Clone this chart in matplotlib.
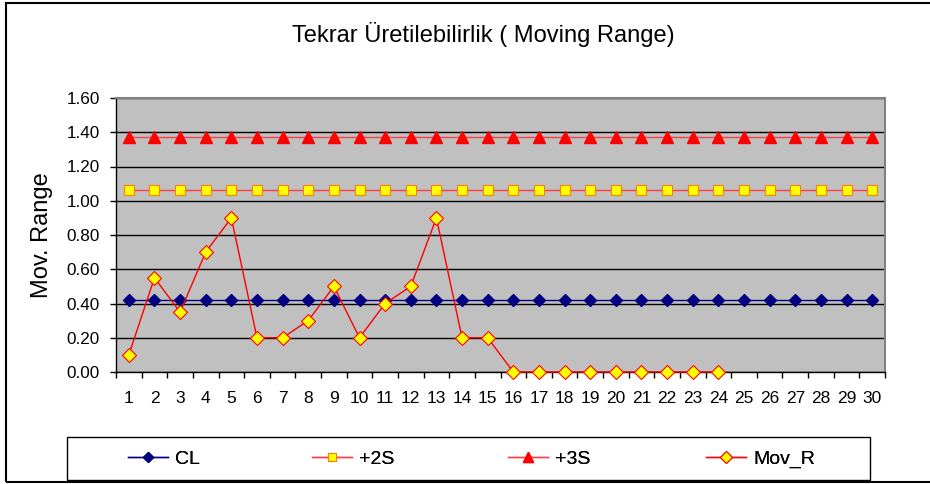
import matplotlib
matplotlib.use("Agg")
import matplotlib.pyplot as plt
from matplotlib.patches import Rectangle

# Data
samples = list(range(1, 31))
cl_values = [0.42] * 30
plus2s_values = [1.06] * 30
plus3s_values = [1.37] * 30
mov_r_samples = list(range(1, 25))
mov_r_values = [0.10, 0.55, 0.35, 0.70, 0.90, 0.20, 0.20, 0.30, 0.50, 0.20,
                0.40, 0.50, 0.90, 0.20, 0.20, 0.00, 0.00, 0.00, 0.00, 0.00,
                0.00, 0.00, 0.00, 0.00]
y_ticks = [0.0, 0.2, 0.4, 0.6, 0.8, 1.0, 1.2, 1.4, 1.6]
title = "Tekrar Üretilebilirlik ( Moving Range)"
y_label = "Mov. Range"
series_names = ["CL", "+2S", "+3S", "Mov_R"]

plt.rcParams['font.family'] = ['Liberation Sans', 'DejaVu Sans']

W, H = 930, 484
fig = plt.figure(figsize=(W / 100, H / 100), dpi=100)

def fx(px):
    return px / W

def fy(py):
    return 1 - py / H

# outer border
fig.add_artist(Rectangle((fx(6), fy(482)), fx(935) - fx(6), fy(2.5) - fy(482),
                         transform=fig.transFigure, fill=False,
                         edgecolor='black', linewidth=1.5))

ax = fig.add_axes([fx(116), fy(372), fx(885) - fx(116), fy(98) - fy(372)])
ax.set_facecolor('#C0C0C0')

lines = []
lines += ax.plot(samples, cl_values, color='#000080', linewidth=1.0, marker='D',
                 markersize=6.5, markerfacecolor='#000080', markeredgecolor='#000080',
                 label=series_names[0], zorder=3)
lines += ax.plot(samples, plus2s_values, color='#FF4040', linewidth=1.0, marker='s',
                 markersize=7.5, markerfacecolor='#FFFF00', markeredgecolor='#FF8000',
                 markeredgewidth=0.8, label=series_names[1], zorder=3)
lines += ax.plot(samples, plus3s_values, color='#FF4040', linewidth=1.0, marker='^',
                 markersize=8.5, markerfacecolor='#FF0000', markeredgecolor='#FF0000',
                 label=series_names[2], zorder=3)
lines += ax.plot(mov_r_samples, mov_r_values, color='#FF0000', linewidth=1.0, marker='D',
                 markersize=6.7, markerfacecolor='#FFFF00', markeredgecolor='#FF0000',
                 markeredgewidth=0.8, label=series_names[3], zorder=4, clip_on=False)

ax.set_xlim(0.5, 30.5)
ax.set_ylim(0, 1.6)
ax.set_yticks(y_ticks)
ax.set_yticklabels([f"{v:.2f}" for v in y_ticks], fontsize=12.3)
ax.yaxis.grid(True, color='black', linewidth=1.0)
ax.set_axisbelow(True)

ax.set_xticks(samples)
ax.set_xticklabels([str(s) for s in samples], fontsize=12.5)
ax.set_xticks([i + 0.5 for i in range(0, 31)], minor=True)
ax.tick_params(axis='x', which='major', length=0, pad=13.5)
ax.tick_params(axis='x', which='minor', length=4.5, direction='out', width=1)
ax.tick_params(axis='y', length=4.5, direction='out', width=1, pad=7)

for side in ['top', 'right']:
    ax.spines[side].set_color('#808080')
    ax.spines[side].set_linewidth(1.5)
for side in ['left', 'bottom']:
    ax.spines[side].set_color('black')
    ax.spines[side].set_linewidth(1.0)

ax.set_ylabel(y_label, fontsize=17, labelpad=10)
fig.text(fx(483), fy(42), title, ha='center', va='baseline', fontsize=17)

# legend frame
fig.add_artist(Rectangle((fx(67), fy(480)), fx(870) - fx(67), fy(437) - fy(480),
                         transform=fig.transFigure, fill=False,
                         edgecolor='black', linewidth=1.0))
legend_x = [128, 312, 508, 706]
for line, name, lx in zip(lines, series_names, legend_x):
    leg = fig.legend([line], [name], loc='center left',
                     bbox_to_anchor=(fx(lx), fy(459)),
                     bbox_transform=fig.transFigure, frameon=False,
                     fontsize=14, handlelength=2.06, handletextpad=0.36,
                     borderaxespad=0, borderpad=0, markerscale=0.85)
    fig.add_artist(leg)

fig.savefig("out.png", dpi=100)
